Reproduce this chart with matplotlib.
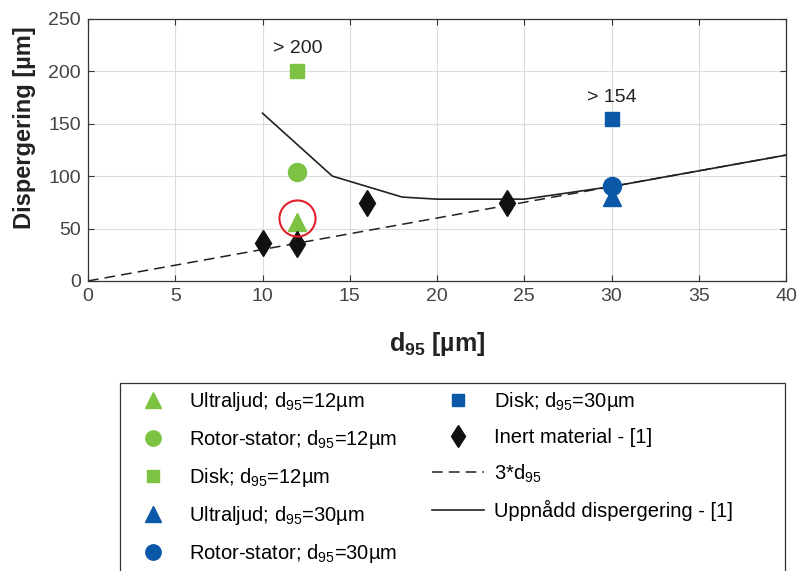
import matplotlib
matplotlib.use("Agg")
import matplotlib.pyplot as plt
from matplotlib.patches import Rectangle
import numpy as np

plt.rcParams['font.family'] = ['Liberation Sans', 'DejaVu Sans']
plt.rcParams['mathtext.fontset'] = 'custom'
plt.rcParams['mathtext.rm'] = 'Liberation Sans'
plt.rcParams['mathtext.bf'] = 'Liberation Sans:bold'
plt.rcParams['mathtext.it'] = 'Liberation Sans:italic'

green = '#7dc242'
blue = '#0b57a8'

# Data
x12 = 12
x30 = 30
ultra12 = 56
rotor12 = 104
disk12 = 200
ultra30 = 80
rotor30 = 91
disk30 = 154
inert_x = [10, 12, 16, 24]
inert_y = [36, 35, 74, 74]
line3_x = [0, 40]
line3_y = [0, 120]
achieved_x = [10, 12, 14, 18, 20, 25, 30, 40]
achieved_y = [160, 130, 100, 80, 78, 78, 90, 120]
highlight_y = 60

fig = plt.figure(figsize=(8, 5.71), dpi=100)
ax = fig.add_axes([0.11, 0.508, 0.8725, 0.459])

ax.grid(True, color='#dcdcdc', linewidth=0.8)
ax.set_axisbelow(True)

h_dash, = ax.plot(line3_x, line3_y, '--', color='#222222', lw=1.1, dashes=(7, 4),
                  label='3*d$_{95}$')
h_line, = ax.plot(achieved_x, achieved_y, '-', color='#222222', lw=1.2,
                  label='Uppnådd dispergering - [1]')
h1, = ax.plot([x12], [ultra12], '^', color=green, ms=13, ls='none', label='Ultraljud; d$_{95}$=12µm')
h2, = ax.plot([x12], [rotor12], 'o', color=green, ms=13, ls='none', label='Rotor-stator; d$_{95}$=12µm')
h3, = ax.plot([x12], [disk12], 's', color=green, ms=10, ls='none', label='Disk; d$_{95}$=12µm')
h4, = ax.plot([x30], [ultra30], '^', color=blue, ms=13, ls='none', label='Ultraljud; d$_{95}$=30µm')
h5, = ax.plot([x30], [rotor30], 'o', color=blue, ms=13, ls='none', label='Rotor-stator; d$_{95}$=30µm')
h6, = ax.plot([x30], [disk30], 's', color=blue, ms=10, ls='none', label='Disk; d$_{95}$=30µm')
h7, = ax.plot(inert_x, inert_y, 'd', color='#111111', ms=13, ls='none', label='Inert material - [1]')

# red circle highlight
ax.plot([x12], [highlight_y], 'o', mfc='none', mec='#e0202a', mew=1.5, ms=26)

ax.text(x12, 222, '> 200', ha='center', va='center', fontsize=14, color='#222222')
ax.text(x30, 175, '> 154', ha='center', va='center', fontsize=14, color='#222222')

ax.set_xlim(0, 40)
ax.set_ylim(0, 250)
ax.set_xticks(np.arange(0, 41, 5))
ax.set_yticks(np.arange(0, 251, 50))
ax.tick_params(direction='in', top=True, right=True, labelsize=14, colors='#333333',
               labelcolor='#444444', length=4, pad=5)
for s in ax.spines.values():
    s.set_color('#333333')
    s.set_linewidth(0.9)

ax.set_xlabel('d$_{\\mathbf{95}}$ [µm]', fontsize=18, fontweight='bold', color='#222222', labelpad=18)
ax.set_ylabel('Dispergering [µm]', fontsize=17, fontweight='bold', color='#222222')
ax.yaxis.set_label_coords(-0.074, 0.585)

handles = [h1, h2, h3, h4, h5, h6, h7, h_dash, h_line]
leg = fig.legend(handles=handles, loc='upper left', bbox_to_anchor=(0.15, 0.3293),
                 borderaxespad=0, ncol=2, fontsize=14.5, frameon=False,
                 handlelength=2.6, handletextpad=0.5,
                 columnspacing=1.7, labelspacing=0.75, borderpad=0.35, markerscale=0.85)

# legend frame (wider than its content, extending past the bottom edge)
fig.patches.append(Rectangle((0.15, -0.05), 0.8313, 0.3793, transform=fig.transFigure,
                             fill=False, edgecolor='#333333', linewidth=0.9))

fig.savefig('out.png', dpi=100)
